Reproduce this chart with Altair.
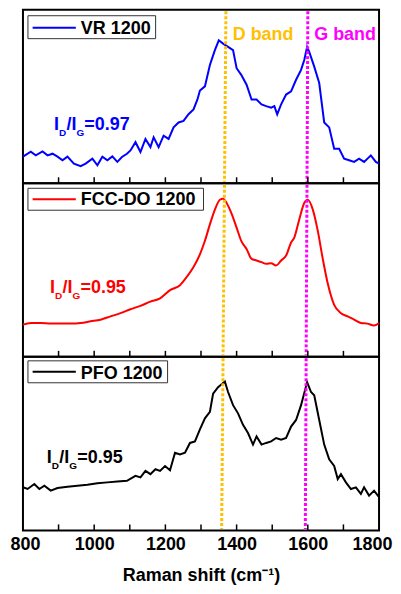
import altair as alt
import pandas as pd

# ---------------- data ----------------
shift_vr = [800, 822, 836, 855, 869, 883, 897, 911, 925, 943, 962, 976, 995, 1009, 1023, 1037, 1051, 1065, 1078, 1092,
            1102, 1116, 1130, 1144, 1158, 1167, 1181, 1195, 1209, 1223, 1237, 1251, 1265, 1279, 1290, 1297, 1311, 1325, 1339, 1350,
            1362, 1376, 1390, 1400, 1413, 1428, 1442, 1456, 1470, 1483, 1497, 1506, 1514, 1525, 1539, 1553, 1567, 1581, 1590, 1598,
            1604, 1618, 1632, 1646, 1660, 1674, 1688, 1702, 1716, 1730, 1744, 1758, 1777, 1791, 1800]
int_vr = [27, 32, 28.3, 32.3, 28.3, 30, 27, 23.3, 27, 20, 17.3, 20, 25, 18.3, 27, 23.3, 27.3, 21.7, 26.7, 30,
          33.3, 41.7, 31.7, 45, 36.7, 46.7, 36.7, 48.3, 45, 56.7, 61.7, 63.3, 70, 75, 85, 94, 98.3, 120, 135, 145,
          141.7, 138.3, 135, 116.7, 110, 100, 85, 85, 80, 78.3, 76.7, 78.3, 70, 80, 90, 93.3, 105, 115, 125, 138.3,
          133.3, 118.3, 101.7, 61.7, 56.7, 35, 35, 25, 23.3, 21.7, 25, 21.7, 28.3, 21.7, 20]

shift_fcc = [800, 822, 850, 878, 906, 934, 962, 990, 1018, 1046, 1074, 1102, 1130, 1158, 1185, 1213,
             1241, 1260, 1279, 1297, 1311, 1325, 1339, 1353, 1362, 1372, 1385, 1400, 1413, 1428, 1442, 1456, 1470, 1483, 1497, 1511,
             1525, 1539, 1553, 1562, 1576, 1590, 1600, 1614, 1628, 1642, 1656, 1674, 1693, 1712, 1730, 1749, 1767, 1786, 1800]
int_fcc = [32.7, 34.3, 34.3, 33.7, 33.7, 33.7, 34.3, 36, 37.7, 41, 44.3, 48.3, 51.7, 56, 59.3, 67.7,
           72.7, 81, 91, 104, 117.7, 134.3, 149.3, 159.3, 160.3, 156, 146, 131, 117.7, 109.3, 99.3, 97.7, 96, 94.3, 95, 92.7,
           97.7, 102.7, 116, 121, 139.3, 156, 159.3, 149.3, 127.7, 99.3, 74.3, 52.7, 44.3, 41, 37.7, 34.3, 33.7, 31.7, 34.3]

shift_pfo = [800, 813, 832, 846, 860, 878, 897, 925, 953, 981, 1009, 1037, 1065, 1092, 1116, 1130, 1144, 1158, 1172, 1185,
             1199, 1213, 1227, 1241, 1255, 1269, 1283, 1297, 1311, 1325, 1334, 1348, 1367, 1376, 1390, 1404, 1418, 1432, 1446, 1456,
             1470, 1483, 1497, 1511, 1525, 1539, 1553, 1567, 1581, 1598, 1609, 1618, 1632, 1646, 1660, 1674, 1684, 1693, 1707, 1721,
             1735, 1749, 1758, 1772, 1786, 1800]
int_pfo = [43.7, 42, 47, 42, 45.3, 40.3, 43, 44.3, 45.3, 46.3, 47.7, 48.7, 49.7, 50.3, 55.3, 53.7, 60.3, 57, 62, 60.3,
           65.3, 61, 78.7, 77, 78.7, 88.7, 90.3, 102.5, 113.7, 120.3, 138.7, 145.3, 151, 140.3, 127, 118.7, 107, 98.7, 87, 95.3,
           87, 88.7, 90.3, 93.7, 92, 93.7, 105.3, 112, 127, 150.3, 140.3, 137, 112, 87, 72, 65.3, 52, 57, 48.7, 42,
           43.7, 37, 43.7, 35.3, 40.3, 33.7]

names = ["VR 1200", "FCC-DO 1200", "PFO 1200"]
colors = ["#0000FF", "#FF0000", "#000000"]
interps = ["linear", "monotone", "linear"]
ratios = ["=0.97", "=0.95", "=0.95"]
ann_x = [887, 876, 867]
ann_y = [54, 65, 68.7]

d_top = [1370, 1366, 1362]
d_bot = [1366, 1362, 1358]
g_top = [1600, 1597.7, 1595.3]
g_bot = [1597.7, 1595.3, 1593]

band_x = [1389, 1618]
band_y = [145, 145]
band_labels = ["D band", "G band"]
band_colors = ["#FFC000", "#FF00FF"]

minor_ticks = [900, 1000, 1100, 1200, 1300, 1400, 1500, 1600, 1700]
label_ticks = [800, 1000, 1200, 1400, 1600, 1800]

# ---------------- styling ----------------
W, H = 357, 174
FONT = "Liberation Sans"
box_x2 = [133, 181, 145]
box_top = [6, 5, 4]
box_bot = [29, 27, 26]
sym_y = [18, 16, 15]
text_base = [24.3, 22, 22.3]

xs = alt.Scale(domain=[800, 1800], nice=False, zero=False)
ys = alt.Scale(domain=[0, 176], nice=False, zero=False)

shifts = [shift_vr, shift_fcc, shift_pfo]
ints = [int_vr, int_fcc, int_pfo]

pieces = [("I", 0, 0, 18), ("D", 5, 6, 10), ("/I", 12.5, 0, 18), ("G", 22.5, 6, 10)]


def xenc(field, bottom, axis=None):
    if axis is not None:
        return alt.X(field, scale=xs, axis=axis)
    if bottom:
        return alt.X(field, scale=xs)
    return alt.X(field, scale=xs, axis=None)


panels = []
for i in range(3):
    bottom = i == 2
    df = pd.DataFrame({"shift": shifts[i], "intensity": ints[i]})
    main_axis = None
    if bottom:
        main_axis = alt.Axis(values=label_ticks, format="d", ticks=False, tickSize=0, domain=False, grid=False,
                             labelFont=FONT, labelFontSize=18, labelFontWeight="bold", labelColor="black",
                             labelPadding=5, labelFlush=True, labelFlushOffset=13,
                             title="Raman shift (cm⁻¹)", titleFont=FONT, titleFontSize=18,
                             titleFontWeight="bold", titleColor="black", titlePadding=13)
    layers = []
    layers.append(alt.Chart(df).mark_line(color=colors[i], strokeWidth=2, interpolate=interps[i]).encode(
        x=xenc("shift:Q", bottom, main_axis),
        y=alt.Y("intensity:Q", scale=ys, axis=None),
    ))
    df_b = pd.DataFrame({"x": [d_top[i], g_top[i]], "x2": [d_bot[i], g_bot[i]], "c": band_colors})
    layers.append(alt.Chart(df_b).mark_rule(strokeWidth=3, strokeDash=[3, 2]).encode(
        x=xenc("x:Q", bottom), x2="x2:Q",
        y=alt.value(1.5), y2=alt.value(H - 1.5),
        color=alt.Color("c:N", scale=None),
    ))
    df_t = pd.DataFrame({"t": minor_ticks})
    layers.append(alt.Chart(df_t).mark_rule(color="black", strokeWidth=1.5).encode(
        x=xenc("t:Q", bottom), y=alt.value(H), y2=alt.value(H - 6),
    ))
    df_l = pd.DataFrame({"label": [names[i]]})
    layers.append(alt.Chart(df_l).mark_rect(fill="white", stroke="#333333", strokeWidth=1).encode(
        x=alt.value(5), x2=alt.value(box_x2[i]), y=alt.value(box_top[i]), y2=alt.value(box_bot[i]),
    ))
    layers.append(alt.Chart(df_l).mark_rule(color=colors[i], strokeWidth=2).encode(
        x=alt.value(9.7), x2=alt.value(53), y=alt.value(sym_y[i]),
    ))
    layers.append(alt.Chart(df_l).mark_text(align="left", baseline="alphabetic", font=FONT, fontSize=18,
                                            fontWeight="bold", color="black").encode(
        x=alt.value(58), y=alt.value(text_base[i]), text="label:N",
    ))
    df_a = pd.DataFrame({"x": [ann_x[i]], "y": [ann_y[i]]})
    for txt, dx, dy, fs in pieces + [(ratios[i], 30.5, 0, 18)]:
        layers.append(alt.Chart(df_a).mark_text(text=txt, dx=dx, dy=dy, fontSize=fs, font=FONT,
                                                fontWeight="bold", color=colors[i], align="left",
                                                baseline="alphabetic").encode(
            x=xenc("x:Q", bottom), y=alt.Y("y:Q", scale=ys, axis=None),
        ))
    if i == 0:
        df_bl = pd.DataFrame({"x": band_x, "y": band_y, "label": band_labels, "c": band_colors})
        layers.append(alt.Chart(df_bl).mark_text(align="left", baseline="alphabetic", font=FONT, fontSize=18,
                                                 fontWeight="bold").encode(
            x=xenc("x:Q", bottom), y=alt.Y("y:Q", scale=ys, axis=None),
            text="label:N", color=alt.Color("c:N", scale=None),
        ))
    panels.append(alt.layer(*layers).properties(
        width=W, height=H, view=alt.ViewBackground(stroke="black", strokeWidth=2)))

chart = alt.vconcat(*panels, spacing=0, bounds="flush").properties(
    padding={"left": 1, "top": 0, "right": 0, "bottom": 0}
).configure_view(stroke="black", strokeWidth=2).configure(font=FONT)

chart.save("out.html", embed_options={"renderer": "svg", "actions": False})
